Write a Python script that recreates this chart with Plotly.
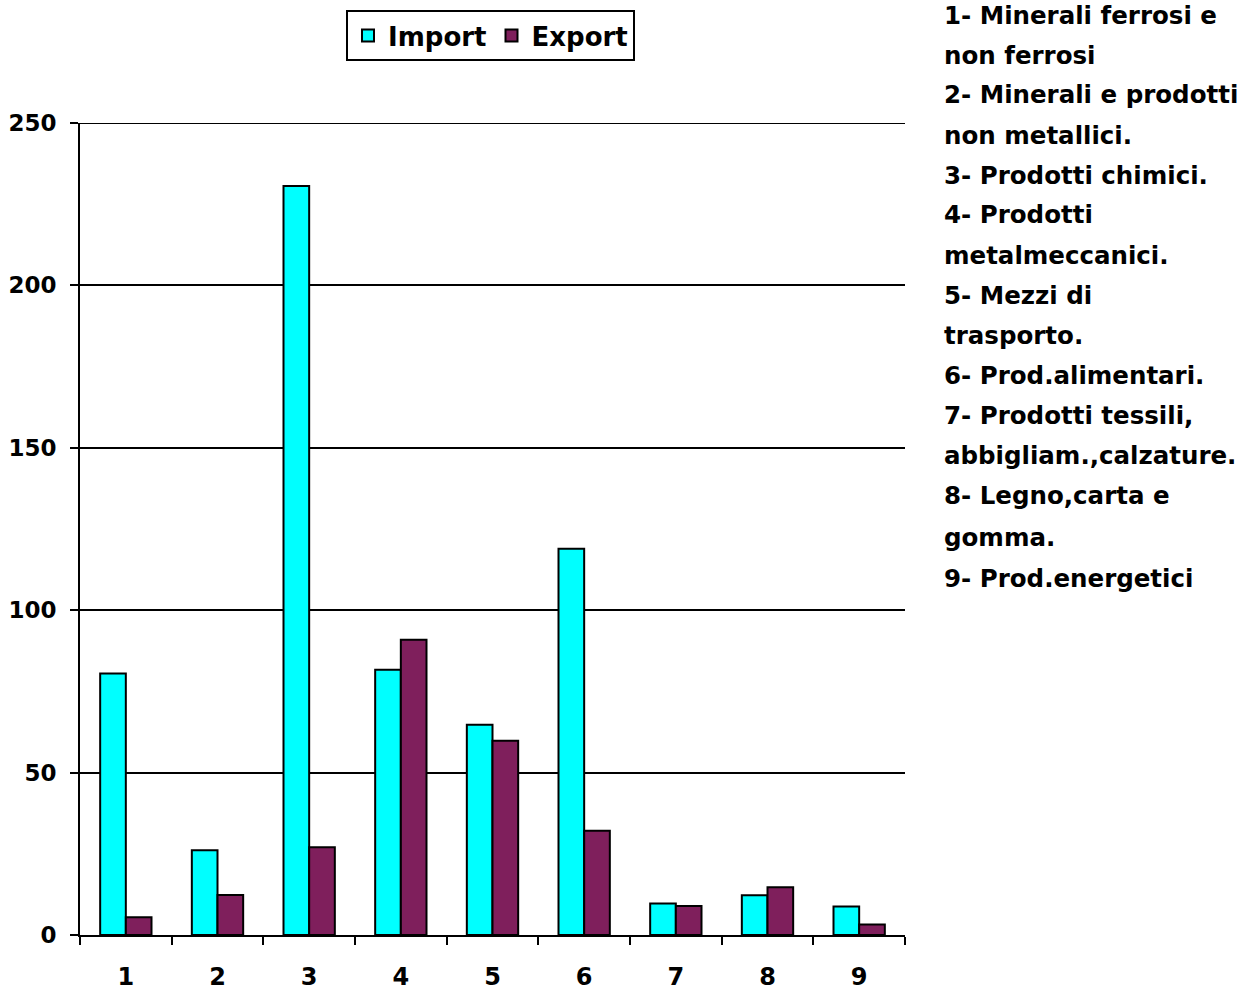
import plotly.graph_objects as go

# Commodity groups (numbered categories on the x axis)
categories = ["1", "2", "3", "4", "5", "6", "7", "8", "9"]
import_values = [80.5, 26.1, 230.6, 81.7, 64.7, 118.9, 9.7, 12.2, 8.8]
export_values = [5.5, 12.3, 27.0, 90.9, 59.8, 32.1, 8.9, 14.7, 3.2]

# Key to the numbered categories, as wrapped lines
key_lines = [
    "1- Minerali ferrosi e",
    "non ferrosi",
    "2- Minerali e prodotti",
    "non metallici.",
    "3- Prodotti chimici.",
    "4- Prodotti",
    "metalmeccanici.",
    "5- Mezzi di",
    "trasporto.",
    "6- Prod.alimentari.",
    "7- Prodotti tessili,",
    "abbigliam.,calzature.",
    "8- Legno,carta e",
    "gomma.",
    "9- Prod.energetici",
]

y_ticks = [0, 50, 100, 150, 200, 250]

FONT = "DejaVu Sans"
IMPORT_COLOR = "#00FFFF"
EXPORT_COLOR = "#7F1F5C"

fig = go.Figure()
fig.add_trace(go.Bar(
    x=categories, y=import_values, name="Import",
    marker=dict(color=IMPORT_COLOR, line=dict(color="black", width=2)),
))
fig.add_trace(go.Bar(
    x=categories, y=export_values, name="Export",
    marker=dict(color=EXPORT_COLOR, line=dict(color="black", width=2)),
))

W, H = 1253, 990
ml, mr, mt, mb = 80, W - 905, 123, H - 935
pw, ph = W - ml - mr, H - mt - mb

# Right-hand key, one annotation per line
line_y = [15, 55, 95, 135, 175, 215, 255, 295, 335, 375, 415, 455, 495, 537, 578]
annotations = []
for text, yp in zip(key_lines, line_y):
    annotations.append(dict(
        text=text, xref="paper", yref="paper",
        x=(942 - ml) / pw, y=1 - (yp - mt) / ph,
        xanchor="left", yanchor="middle", showarrow=False,
        font=dict(family=FONT, size=24.5, color="black", weight="bold"),
    ))

# Top gridline at the upper end of the value range
shapes = [dict(
    type="line", xref="paper", yref="y", x0=0, x1=1,
    y0=y_ticks[-1], y1=y_ticks[-1], line=dict(color="black", width=2),
)]

fig.update_layout(
    width=W, height=H,
    margin=dict(l=ml, r=mr, t=mt, b=mb, autoexpand=False),
    paper_bgcolor="white", plot_bgcolor="white",
    barmode="group", bargap=0.44, bargroupgap=0,
    font=dict(family=FONT, color="black"),
    showlegend=True,
    legend=dict(
        orientation="h", xref="paper", yref="paper",
        x=(346 - ml) / pw, y=1 + (mt - 10) / ph,
        xanchor="left", yanchor="top",
        bordercolor="black", borderwidth=2, bgcolor="white",
        font=dict(family=FONT, size=26, color="black", weight="bold"),
        itemwidth=30, tracegroupgap=0,
    ),
    annotations=annotations,
    shapes=shapes,
    xaxis=dict(
        type="category", showline=True, linecolor="black", linewidth=2,
        ticks="outside", tickson="boundaries", ticklen=8, tickwidth=2, tickcolor="black",
        ticklabelstandoff=19,
        tickfont=dict(family=FONT, size=24, color="black", weight="bold"),
        showgrid=False, zeroline=False,
    ),
    yaxis=dict(
        range=[0, 250], tickvals=y_ticks, ticktext=[str(v) for v in y_ticks],
        showline=True, linecolor="black", linewidth=2,
        ticks="outside", ticklen=8, tickwidth=2, tickcolor="black",
        ticklabelstandoff=9,
        showgrid=True, gridcolor="black", gridwidth=2,
        zeroline=False,
        tickfont=dict(family=FONT, size=23, color="black", weight="bold"),
    ),
)

fig.write_html("out.html")
